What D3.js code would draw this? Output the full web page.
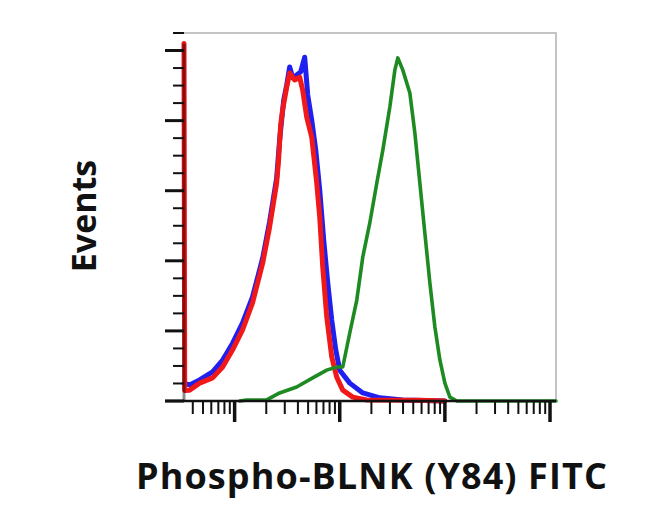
<!DOCTYPE html>
<html>
<head>
<meta charset="utf-8">
<script src="https://cdn.jsdelivr.net/npm/d3@7"></script>
<style>
  body { margin: 0; background: #fff; }
  svg { display: block; }
</style>
</head>
<body>
<div id="chart"></div>
<script>
// histogram overlays: [fluorescence, % of max events]
var redSeries = [
  [3.3, 102], [3.35, 3], [3.73, 3.1], [4.64, 5.1], [6.17, 6.6], [7.69, 9.7], [9.57, 14.6],
  [11.9, 20.3], [14.8, 28.0], [18.5, 39.4], [21.5, 49.6], [25.1, 62.2], [26.2, 68.8],
  [27.4, 78.7], [28.6, 83.0], [31.3, 89.6], [33.4, 93.6], [37.3, 91.6], [41.6, 92.4],
  [44.4, 88.7], [48.5, 81.0], [54.1, 75.3], [60.4, 62.2], [64.5, 52.5], [68.9, 38.2],
  [75.2, 24.0], [83.9, 12.6], [93.6, 6.8], [106.8, 3.1], [133, 1.1], [180.7, 0.3],
  [578, 0.2], [1000, 0]
];
var blueSeries = [
  [3.3, 5], [3.73, 4.6], [4.64, 6.0], [6.17, 8.3], [7.69, 11.7], [9.57, 16.5], [11.9, 22.3],
  [14.8, 29.7], [18.5, 40.8], [21.5, 51.1], [25.1, 63.6], [26.8, 74.5], [29.3, 85.9],
  [31.3, 90.2], [33.4, 95.3], [35.7, 92.2], [38.9, 93.0], [42.5, 93.9], [46.4, 98.1],
  [49.6, 87.3], [54.1, 80.2], [59.1, 71.6], [64.5, 60.2], [70.4, 45.9], [76.9, 33.7],
  [83.9, 23.1], [91.6, 14.6], [100, 8.8], [124.5, 5.1], [165.6, 2.3], [240.4, 0.9],
  [398, 0.3], [1000, 0]
];
var greenSeries = [
  [11.2, 0], [13.0, 0.3], [20.2, 0.3], [26.8, 2.3], [38.9, 4.0], [55.3, 6.6], [75.2, 8.8],
  [93.6, 9.7], [106.8, 9.7], [124.5, 19.4], [145.2, 28.8], [165.6, 41.1], [193.1, 50.8],
  [225.1, 62.2], [256.8, 71.6], [299.5, 83.9], [334.1, 94.4], [356.8, 97.9], [398.1, 94.4],
  [464.2, 87.9], [518, 76.5], [578, 62.2], [645, 47.9], [719.7, 33.7], [803.1, 21.1],
  [896.2, 11.7], [1000, 5.1], [1115.8, 1.1], [1301, 0], [11400, 0]
];
var xDomain = [3.3, 11400];
var yDomain = [0, 105];
var xMajorTicks = [10, 100, 1000, 10000];
var yMajorTicks = [0, 20, 40, 60, 80, 100];
var xLabel = "Phospho-BLNK (Y84) FITC";
var yLabel = "Events";

var width = 650, height = 531;
var margin = {top: 33, right: 94, bottom: 130, left: 184};

var svg = d3.select("#chart").append("svg")
    .attr("width", width)
    .attr("height", height);

var x = d3.scaleLog().domain(xDomain).range([margin.left, width - margin.right]);
var y = d3.scaleLinear().domain(yDomain).range([height - margin.bottom, margin.top]);

// grey frame on top and right
svg.append("path")
    .attr("d", "M" + x.range()[0] + "," + y.range()[1] + "H" + x.range()[1] + "V" + y.range()[0])
    .attr("fill", "none")
    .attr("stroke", "#c4c4c4")
    .attr("stroke-width", 2);

// minor ticks for log axis
var xMinor = [];
xMajorTicks.forEach(function(d){
  for (var k = 1; k < 10; k++) {
    var v = d / 10 * k;
    if (k > 1 && v >= xDomain[0] && v <= xDomain[1]) xMinor.push(v);
  }
});
var yMinor = d3.range(0, 106, 5).filter(function(d){ return d % 20 != 0; });

var line = d3.line()
    .x(function(d){ return x(d[0]); })
    .y(function(d){ return y(d[1]); })
    .curve(d3.curveLinear);

var curves = svg.append("g").attr("class", "curves")
    .attr("fill", "none")
    .attr("stroke-linejoin", "round")
    .attr("stroke-linecap", "round");

curves.append("path").datum(blueSeries)
    .attr("d", line).attr("stroke", "#1f1ff0").attr("stroke-width", 5);
curves.append("path").datum(redSeries)
    .attr("d", line).attr("stroke", "#f01818").attr("stroke-width", 5);
curves.append("path").datum(greenSeries)
    .attr("d", line).attr("stroke", "#1d8a22").attr("stroke-width", 3.6);

// left axis line darkens the red edge
svg.append("line")
    .attr("x1", x.range()[0]).attr("x2", x.range()[0])
    .attr("y1", y(0)).attr("y2", y(102))
    .attr("stroke", "#000").attr("stroke-opacity", 0.45).attr("stroke-width", 3);

// x axis
var gx = svg.append("g").attr("transform", "translate(0," + y(0) + ")");
gx.append("line")
    .attr("x1", x.range()[0] - 19).attr("x2", x.range()[1])
    .attr("stroke", "#111").attr("stroke-width", 2.5);
gx.selectAll(".xminor").data(xMinor).enter().append("line")
    .attr("class", "xminor")
    .attr("x1", function(d){ return x(d); }).attr("x2", function(d){ return x(d); })
    .attr("y1", 0).attr("y2", 13)
    .attr("stroke", "#111").attr("stroke-width", 2);
gx.selectAll(".xmajor").data(xMajorTicks).enter().append("line")
    .attr("class", "xmajor")
    .attr("x1", function(d){ return x(d); }).attr("x2", function(d){ return x(d); })
    .attr("y1", 0).attr("y2", 21)
    .attr("stroke", "#111").attr("stroke-width", 3.5);

// y axis ticks
var gy = svg.append("g").attr("transform", "translate(" + x.range()[0] + ",0)");
gy.selectAll(".yminor").data(yMinor).enter().append("line")
    .attr("class", "yminor")
    .attr("y1", function(d){ return y(d); }).attr("y2", function(d){ return y(d); })
    .attr("x1", -11).attr("x2", 0)
    .attr("stroke", "#111").attr("stroke-width", 2);
gy.selectAll(".ymajor").data(yMajorTicks).enter().append("line")
    .attr("class", "ymajor")
    .attr("y1", function(d){ return y(d); }).attr("y2", function(d){ return y(d); })
    .attr("x1", -19).attr("x2", 0)
    .attr("stroke", "#111").attr("stroke-width", 3);

// labels
svg.append("text")
    .attr("x", 372).attr("y", 489)
    .attr("text-anchor", "middle")
    .attr("font-family", "'Open Sans', sans-serif")
    .attr("font-weight", "bold")
    .attr("font-size", 36)
    .attr("letter-spacing", 1.1)
    .attr("fill", "#111")
    .text(xLabel);

svg.append("text")
    .attr("transform", "translate(96,216) rotate(-90)")
    .attr("text-anchor", "middle")
    .attr("font-family", "'Open Sans', sans-serif")
    .attr("font-weight", "bold")
    .attr("font-size", 34)
    .attr("fill", "#111")
    .text(yLabel);
</script>
</body>
</html>
